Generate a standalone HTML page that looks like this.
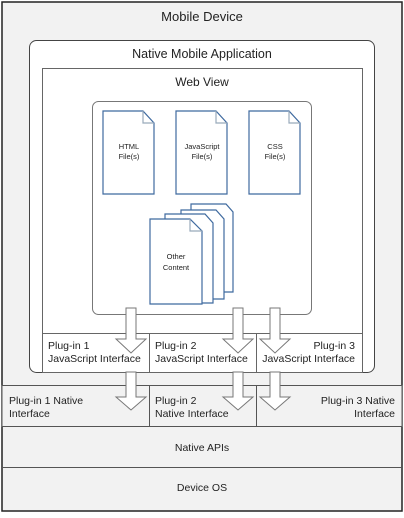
<!DOCTYPE html>
<html><head><meta charset="utf-8"><style>
body{margin:0;width:404px;height:513px;background:#fff;overflow:hidden}
svg text{font-family:"Liberation Sans",sans-serif;fill:#222}
</style></head><body>
<svg width="404" height="513" viewBox="0 0 404 513">
<rect x="2" y="2" width="400" height="509" fill="#f2f2f2" stroke="#222" stroke-width="1.5"/>
<text x="202" y="21" font-size="13" text-anchor="middle">Mobile Device</text>
<rect x="29.5" y="40.5" width="345" height="332" rx="7" fill="#fff" stroke="#444"/>
<text x="202" y="58" font-size="12.5" text-anchor="middle">Native Mobile Application</text>
<rect x="42.5" y="68.5" width="320" height="304" fill="#fff" stroke="#666"/>
<text x="202" y="86" font-size="12" text-anchor="middle">Web View</text>
<rect x="92.5" y="101.5" width="219" height="213" rx="6" fill="#fff" stroke="#777"/>
<g fill="#fff" stroke="#3f6a9f" stroke-width="1.2">
<path d="M103 111h40l11 12v71h-51z"/><path d="M143 111v12h11" fill="none" stroke="#9ab"/>
<path d="M176 111h40l11 12v71h-51z"/><path d="M216 111v12h11" fill="none" stroke="#9ab"/>
<path d="M249 111h40l11 12v71h-51z"/><path d="M289 111v12h11" fill="none" stroke="#9ab"/>
<path d="M191 204h35l7 8v80h-42z"/>
<path d="M181 210h35l8 9v80h-43z"/>
<path d="M165 214h40l8 9v80h-48z"/>
<path d="M150 219h40l12 12v73h-52z"/><path d="M190 219v12h12" fill="none" stroke="#9ab"/>
</g>
<g font-size="7.5" text-anchor="middle" fill="#444">
<text x="129" y="149">HTML</text><text x="129" y="159">File(s)</text>
<text x="202" y="149">JavaScript</text><text x="202" y="159">File(s)</text>
<text x="275" y="149">CSS</text><text x="275" y="159">File(s)</text>
<text x="176" y="259">Other</text><text x="176" y="270">Content</text>
</g>
<line x1="42" y1="333.5" x2="362" y2="333.5" stroke="#666"/>
<line x1="149.5" y1="333" x2="149.5" y2="372" stroke="#666"/>
<line x1="256.5" y1="333" x2="256.5" y2="372" stroke="#666"/>
<rect x="2" y="385.5" width="400" height="41" fill="#f2f2f2" stroke="#555"/>
<line x1="149.5" y1="385" x2="149.5" y2="426" stroke="#555"/>
<line x1="256.5" y1="385" x2="256.5" y2="426" stroke="#555"/>
<line x1="2" y1="467.5" x2="402" y2="467.5" stroke="#555"/>
<g font-size="10.5">
<text x="48" y="349">Plug-in 1</text><text x="48" y="362">JavaScript Interface</text>
<text x="155" y="349">Plug-in 2</text><text x="155" y="362">JavaScript Interface</text>
<text x="355" y="349" text-anchor="end">Plug-in 3</text><text x="355" y="362" text-anchor="end">JavaScript Interface</text>
<text x="9" y="404">Plug-in 1 Native</text><text x="9" y="417">Interface</text>
<text x="155" y="404">Plug-in 2</text><text x="155" y="417">Native Interface</text>
<text x="395" y="404" text-anchor="end">Plug-in 3 Native</text><text x="395" y="417" text-anchor="end">Interface</text>
<text x="202" y="451" text-anchor="middle">Native APIs</text>
<text x="202" y="491" text-anchor="middle">Device OS</text>
</g>
<g fill="#fff" stroke="#777">
<path d="M126 308h10v31h10l-15 14l-15-14h10z"/>
<path d="M126 372h10v25h10l-15 13l-15-13h10z"/>
<path d="M233 308h10v31h10l-15 14l-15-14h10z"/>
<path d="M233 372h10v25h10l-15 13l-15-13h10z"/>
<path d="M270 308h10v31h10l-15 14l-15-14h10z"/>
<path d="M270 372h10v25h10l-15 13l-15-13h10z"/>
</g>
</svg>
</body></html>
